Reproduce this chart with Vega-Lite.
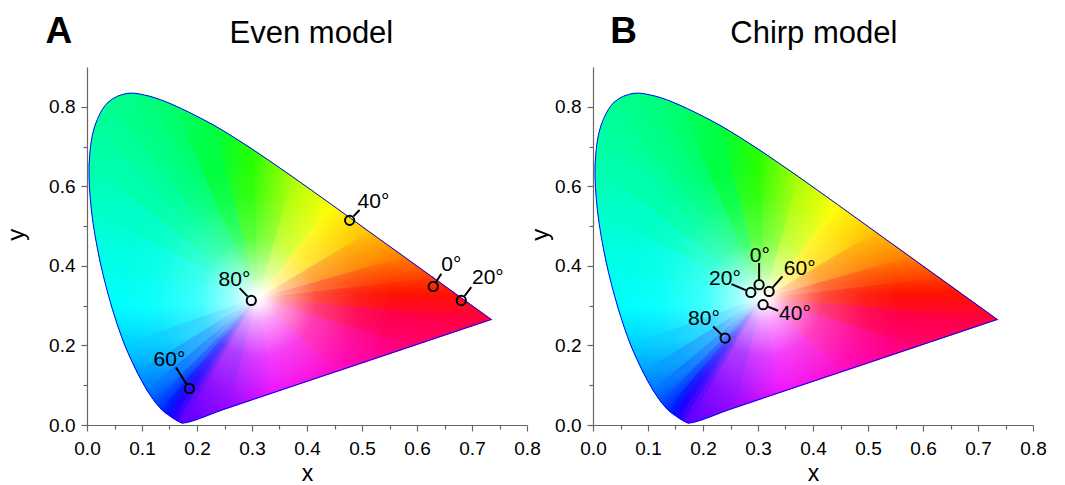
{
"$schema": "https://vega.github.io/schema/vega-lite/v6.json",
"background": "white",
"padding": {"left": 5, "top": 13, "right": 5, "bottom": 0},
"config": {"view": {"stroke": null}, "font": "Liberation Sans",
  "axis": {"domainColor": "#666", "tickColor": "#666", "domainWidth": 1.2, "tickWidth": 1.2, "labelColor": "black", "labelFont": "Liberation Sans", "labelFontSize": 19, "titleFont": "Liberation Sans", "titleFontSize": 24, "titleFontWeight": "normal", "titleColor": "black", "grid": false}},
"data": {"values": [
{"p":"A","i":0,"x":0.31,"y":0.32},{"p":"A","i":1,"x":0.7347,"y":0.2653},{"p":"A","i":2,"x":0.6658,"y":0.334},{"p":"A","i":3,"x":0.627,"y":0.3725},{"p":"A","i":4,"x":0.5752,"y":0.4242},{"p":"A","i":5,"x":0.5125,"y":0.4866},{"p":"A","i":6,"x":0.4441,"y":0.5547},{"p":"A","i":7,"x":0.3731,"y":0.6245},{"p":"A","i":8,"x":0.3016,"y":0.6923},{"p":"A","i":9,"x":0.2296,"y":0.7543},{"p":"A","i":10,"x":0.1547,"y":0.8059},{"p":"A","i":11,"x":0.1142,"y":0.8262},{"p":"A","i":12,"x":0.0743,"y":0.8338},{"p":"A","i":13,"x":0.0389,"y":0.812},{"p":"A","i":14,"x":0.0139,"y":0.7502},{"p":"A","i":15,"x":0.0039,"y":0.6548},{"p":"A","i":16,"x":0.0082,"y":0.5384},{"p":"A","i":17,"x":0.0235,"y":0.4127},{"p":"A","i":18,"x":0.0454,"y":0.295},{"p":"A","i":19,"x":0.0687,"y":0.2007},{"p":"A","i":20,"x":0.0913,"y":0.1327},{"p":"A","i":21,"x":0.1096,"y":0.0868},{"p":"A","i":22,"x":0.1241,"y":0.0578},{"p":"A","i":23,"x":0.1355,"y":0.0399},{"p":"A","i":24,"x":0.144,"y":0.0297},{"p":"A","i":25,"x":0.1566,"y":0.0177},{"p":"A","i":26,"x":0.1644,"y":0.0109},{"p":"A","i":27,"x":0.1741,"y":0.005},{"p":"A","i":28,"x":0.2582,"y":0.044},{"p":"A","i":29,"x":0.3423,"y":0.0831},{"p":"A","i":30,"x":0.4544,"y":0.1352},{"p":"A","i":31,"x":0.5946,"y":0.2002},{"p":"A","i":32,"x":0.7347,"y":0.2653},
{"p":"B","i":0,"x":0.31,"y":0.32},{"p":"B","i":1,"x":0.7347,"y":0.2653},{"p":"B","i":2,"x":0.6658,"y":0.334},{"p":"B","i":3,"x":0.627,"y":0.3725},{"p":"B","i":4,"x":0.5752,"y":0.4242},{"p":"B","i":5,"x":0.5125,"y":0.4866},{"p":"B","i":6,"x":0.4441,"y":0.5547},{"p":"B","i":7,"x":0.3731,"y":0.6245},{"p":"B","i":8,"x":0.3016,"y":0.6923},{"p":"B","i":9,"x":0.2296,"y":0.7543},{"p":"B","i":10,"x":0.1547,"y":0.8059},{"p":"B","i":11,"x":0.1142,"y":0.8262},{"p":"B","i":12,"x":0.0743,"y":0.8338},{"p":"B","i":13,"x":0.0389,"y":0.812},{"p":"B","i":14,"x":0.0139,"y":0.7502},{"p":"B","i":15,"x":0.0039,"y":0.6548},{"p":"B","i":16,"x":0.0082,"y":0.5384},{"p":"B","i":17,"x":0.0235,"y":0.4127},{"p":"B","i":18,"x":0.0454,"y":0.295},{"p":"B","i":19,"x":0.0687,"y":0.2007},{"p":"B","i":20,"x":0.0913,"y":0.1327},{"p":"B","i":21,"x":0.1096,"y":0.0868},{"p":"B","i":22,"x":0.1241,"y":0.0578},{"p":"B","i":23,"x":0.1355,"y":0.0399},{"p":"B","i":24,"x":0.144,"y":0.0297},{"p":"B","i":25,"x":0.1566,"y":0.0177},{"p":"B","i":26,"x":0.1644,"y":0.0109},{"p":"B","i":27,"x":0.1741,"y":0.005},{"p":"B","i":28,"x":0.2582,"y":0.044},{"p":"B","i":29,"x":0.3423,"y":0.0831},{"p":"B","i":30,"x":0.4544,"y":0.1352},{"p":"B","i":31,"x":0.5946,"y":0.2002},{"p":"B","i":32,"x":0.7347,"y":0.2653},
{"p":"A","k":"M","x":0.6296,"y":0.3484},{"p":"A","k":"R","x":0.6349,"y":0.3603,"x2":0.6442,"y2":0.3804},{"p":"A","k":"L","x":0.6442,"y":0.3862,"t":"0°"},
{"p":"A","k":"M","x":0.6805,"y":0.3132},{"p":"A","k":"R","x":0.6865,"y":0.3243,"x2":0.6987,"y2":0.3467},{"p":"A","k":"L","x":0.700,"y":0.3542,"t":"20°"},
{"p":"A","k":"M","x":0.4775,"y":0.5145},{"p":"A","k":"R","x":0.4845,"y":0.5245,"x2":0.4956,"y2":0.5404},{"p":"A","k":"L","x":0.492,"y":0.5447,"t":"40°"},
{"p":"A","k":"M","x":0.186,"y":0.0918},{"p":"A","k":"R","x":0.1807,"y":0.1034,"x2":0.1618,"y2":0.1447},{"p":"A","k":"L","x":0.1211,"y":0.1472,"t":"60°"},
{"p":"A","k":"M","x":0.2987,"y":0.3132},{"p":"A","k":"R","x":0.2918,"y":0.3233,"x2":0.2775,"y2":0.3442},{"p":"A","k":"L","x":0.2393,"y":0.3484,"t":"80°"},
{"p":"B","k":"M","x":0.302,"y":0.3527},{"p":"B","k":"R","x":0.302,"y":0.3665,"x2":0.302,"y2":0.407},{"p":"B","k":"L","x":0.2851,"y":0.4096,"t":"0°"},
{"p":"B","k":"M","x":0.2869,"y":0.3333},{"p":"B","k":"R","x":0.2777,"y":0.3389,"x2":0.2518,"y2":0.3542},{"p":"B","k":"L","x":0.2111,"y":0.3527,"t":"20°"},
{"p":"B","k":"M","x":0.3093,"y":0.3024},{"p":"B","k":"R","x":0.3185,"y":0.2974,"x2":0.3365,"y2":0.2873},{"p":"B","k":"L","x":0.3384,"y":0.2647,"t":"40°"},
{"p":"B","k":"M","x":0.3202,"y":0.3358},{"p":"B","k":"R","x":0.3269,"y":0.3462,"x2":0.3445,"y2":0.3736},{"p":"B","k":"L","x":0.3469,"y":0.3779,"t":"60°"},
{"p":"B","k":"M","x":0.2402,"y":0.2184},{"p":"B","k":"R","x":0.2331,"y":0.2279,"x2":0.2184,"y2":0.2478},{"p":"B","k":"L","x":0.1729,"y":0.2503,"t":"80°"},
{"p":"A","k":"T","x":-0.051,"y":0.96,"t":"A"},{"p":"B","k":"T","x":0.0555,"y":0.96,"t":"B"},
{"p":"A","k":"H","x":0.408,"y":0.96,"t":"Even model"},{"p":"B","k":"H","x":0.4015,"y":0.96,"t":"Chirp model"},
{"p":"A","k":"Y","x":-0.114,"y":0.478,"t":"y"},{"p":"B","k":"Y","x":-0.0813,"y":0.478,"t":"y"}
]},
"facet": {"column": {"field": "p", "type": "nominal", "title": null, "header": {"labels": false, "title": null}}},
"spacing": -12,
"resolve": {"axis": {"y": "independent", "x": "independent"}},
"spec": {
"width": 440, "height": 358,
"encoding": {
 "x": {"field": "x", "type": "quantitative", "scale": {"domain": [0, 0.8], "nice": false, "zero": false},
   "axis": {"title": "x", "titleFontSize": 23, "values": [0,0.05,0.1,0.15,0.2,0.25,0.3,0.35,0.4,0.45,0.5,0.55,0.6,0.65,0.7,0.75,0.8], "labelExpr": "round(datum.value*20)%2==0 ? format(datum.value,'.1f') : ''", "tickSize": {"condition": {"test": "round(datum.value*20)%2==0", "value": 6}, "value": 4}, "labelFlush": false, "labelOverlap": false, "labelPadding": 8, "titlePadding": 4}},
 "y": {"field": "y", "type": "quantitative", "scale": {"domain": [0, 0.9], "nice": false, "zero": false},
   "axis": {"title": null, "values": [0,0.1,0.2,0.3,0.4,0.5,0.6,0.7,0.8], "labelExpr": "round(datum.value*10)%2==0 ? format(datum.value,'.1f') : ''", "tickSize": {"condition": {"test": "round(datum.value*10)%2==0", "value": 6}, "value": 4}, "labelFlush": false, "labelOverlap": false, "labelPadding": 6}},
 "order": {"field": "i", "type": "quantitative"}
},
"layer": [
{"transform":[{"filter":"datum.i>=1"}],"mark":{"type":"line","interpolate":"catmull-rom","strokeWidth":0,"fill":{"gradient":"linear","x1":0,"y1":0,"x2":0,"y2":1,"stops":[{"offset":0,"color":"#00ff88"},{"offset":0.101,"color":"#00ff9c"},{"offset":0.222,"color":"#00ffac"},{"offset":0.355,"color":"#00ffc8"},{"offset":0.512,"color":"#00ffe6"},{"offset":0.65,"color":"#00ffff"},{"offset":0.764,"color":"#00d0ff"},{"offset":0.846,"color":"#00a0ff"},{"offset":0.9,"color":"#0078ff"},{"offset":0.936,"color":"#0050ff"},{"offset":0.97,"color":"#0018ff"},{"offset":0.985,"color":"#2000ff"},{"offset":1,"color":"#6000ff"}]}}},
{"transform":[{"filter":"datum.i==0||datum.i==1||datum.i==2"}],"mark":{"type":"line","strokeWidth":1.2,"fill":{"gradient":"linear","x1":1,"y1":1,"x2":0.838,"y2":0,"stops":[{"offset":0,"color":"#ff0040"},{"offset":1,"color":"#ff1400"}]},"stroke":{"gradient":"linear","x1":1,"y1":1,"x2":0.838,"y2":0,"stops":[{"offset":0,"color":"#ff0040"},{"offset":1,"color":"#ff1400"}]}}},
{"transform":[{"filter":"datum.i==0||datum.i==2||datum.i==3"}],"mark":{"type":"line","strokeWidth":1.2,"fill":{"gradient":"linear","x1":1,"y1":0.733,"x2":0.891,"y2":0,"stops":[{"offset":0,"color":"#ff1400"},{"offset":1,"color":"#ff4000"}]},"stroke":{"gradient":"linear","x1":1,"y1":0.733,"x2":0.891,"y2":0,"stops":[{"offset":0,"color":"#ff1400"},{"offset":1,"color":"#ff4000"}]}}},
{"transform":[{"filter":"datum.i==0||datum.i==3||datum.i==4"}],"mark":{"type":"line","strokeWidth":1.2,"fill":{"gradient":"linear","x1":1,"y1":0.496,"x2":0.837,"y2":0,"stops":[{"offset":0,"color":"#ff4000"},{"offset":1,"color":"#ff8000"}]},"stroke":{"gradient":"linear","x1":1,"y1":0.496,"x2":0.837,"y2":0,"stops":[{"offset":0,"color":"#ff4000"},{"offset":1,"color":"#ff8000"}]}}},
{"transform":[{"filter":"datum.i==0||datum.i==4||datum.i==5"}],"mark":{"type":"line","strokeWidth":1.2,"fill":{"gradient":"linear","x1":1,"y1":0.375,"x2":0.764,"y2":0,"stops":[{"offset":0,"color":"#ff8000"},{"offset":1,"color":"#ffc000"}]},"stroke":{"gradient":"linear","x1":1,"y1":0.375,"x2":0.764,"y2":0,"stops":[{"offset":0,"color":"#ff8000"},{"offset":1,"color":"#ffc000"}]}}},
{"transform":[{"filter":"datum.i==0||datum.i==5||datum.i==6"}],"mark":{"type":"line","strokeWidth":1.2,"fill":{"gradient":"linear","x1":1,"y1":0.29,"x2":0.662,"y2":0,"stops":[{"offset":0,"color":"#ffc000"},{"offset":1,"color":"#ffff00"}]},"stroke":{"gradient":"linear","x1":1,"y1":0.29,"x2":0.662,"y2":0,"stops":[{"offset":0,"color":"#ffc000"},{"offset":1,"color":"#ffff00"}]}}},
{"transform":[{"filter":"datum.i==0||datum.i==6||datum.i==7"}],"mark":{"type":"line","strokeWidth":1.2,"fill":{"gradient":"linear","x1":1,"y1":0.229,"x2":0.471,"y2":0,"stops":[{"offset":0,"color":"#ffff00"},{"offset":1,"color":"#a8ff00"}]},"stroke":{"gradient":"linear","x1":1,"y1":0.229,"x2":0.471,"y2":0,"stops":[{"offset":0,"color":"#ffff00"},{"offset":1,"color":"#a8ff00"}]}}},
{"transform":[{"filter":"datum.i==0||datum.i==7||datum.i==8"}],"mark":{"type":"line","strokeWidth":1.2,"fill":{"gradient":"linear","x1":1,"y1":0.182,"x2":0,"y2":0,"stops":[{"offset":0,"color":"#a8ff00"},{"offset":1,"color":"#28ff00"}]},"stroke":{"gradient":"linear","x1":1,"y1":0.182,"x2":0,"y2":0,"stops":[{"offset":0,"color":"#a8ff00"},{"offset":1,"color":"#28ff00"}]}}},
{"transform":[{"filter":"datum.i==0||datum.i==8||datum.i==9"}],"mark":{"type":"line","strokeWidth":1.2,"fill":{"gradient":"linear","x1":0.896,"y1":0.143,"x2":0,"y2":0,"stops":[{"offset":0,"color":"#28ff00"},{"offset":1,"color":"#00ff40"}]},"stroke":{"gradient":"linear","x1":0.896,"y1":0.143,"x2":0,"y2":0,"stops":[{"offset":0,"color":"#28ff00"},{"offset":1,"color":"#00ff40"}]}}},
{"transform":[{"filter":"datum.i==0||datum.i==9||datum.i==10"}],"mark":{"type":"line","strokeWidth":1.2,"fill":{"gradient":"linear","x1":0.482,"y1":0.106,"x2":0,"y2":0,"stops":[{"offset":0,"color":"#00ff40"},{"offset":1,"color":"#00ff6c"}]},"stroke":{"gradient":"linear","x1":0.482,"y1":0.106,"x2":0,"y2":0,"stops":[{"offset":0,"color":"#00ff40"},{"offset":1,"color":"#00ff6c"}]}}},
{"transform":[{"filter":"datum.i==0||datum.i==10||datum.i==11"}],"mark":{"type":"line","strokeWidth":1.2,"fill":{"gradient":"linear","x1":0.207,"y1":0.04,"x2":0,"y2":0,"stops":[{"offset":0,"color":"#00ff6c"},{"offset":1,"color":"#00ff7c"}]},"stroke":{"gradient":"linear","x1":0.207,"y1":0.04,"x2":0,"y2":0,"stops":[{"offset":0,"color":"#00ff6c"},{"offset":1,"color":"#00ff7c"}]}}},
{"transform":[{"filter":"datum.i==0||datum.i==11||datum.i==12"}],"mark":{"type":"line","strokeWidth":1.2,"fill":{"gradient":"linear","x1":0.169,"y1":0.015,"x2":0,"y2":0,"stops":[{"offset":0,"color":"#00ff7c"},{"offset":1,"color":"#00ff88"}]},"stroke":{"gradient":"linear","x1":0.169,"y1":0.015,"x2":0,"y2":0,"stops":[{"offset":0,"color":"#00ff7c"},{"offset":1,"color":"#00ff88"}]}}},
{"transform":[{"filter":"datum.i==0||datum.i==12||datum.i==13"}],"mark":{"type":"line","strokeWidth":1.2,"fill":{"gradient":"linear","x1":0.131,"y1":0,"x2":0,"y2":0.042,"stops":[{"offset":0,"color":"#00ff88"},{"offset":1,"color":"#00ff90"}]},"stroke":{"gradient":"linear","x1":0.131,"y1":0,"x2":0,"y2":0.042,"stops":[{"offset":0,"color":"#00ff88"},{"offset":1,"color":"#00ff90"}]}}},
{"transform":[{"filter":"datum.i==0||datum.i==13||datum.i==14"}],"mark":{"type":"line","strokeWidth":1.2,"fill":{"gradient":"linear","x1":0.084,"y1":0,"x2":0,"y2":0.126,"stops":[{"offset":0,"color":"#00ff90"},{"offset":1,"color":"#00ff9c"}]},"stroke":{"gradient":"linear","x1":0.084,"y1":0,"x2":0,"y2":0.126,"stops":[{"offset":0,"color":"#00ff90"},{"offset":1,"color":"#00ff9c"}]}}},
{"transform":[{"filter":"datum.i==0||datum.i==14||datum.i==15"}],"mark":{"type":"line","strokeWidth":1.2,"fill":{"gradient":"linear","x1":0.033,"y1":0,"x2":0,"y2":0.222,"stops":[{"offset":0,"color":"#00ff9c"},{"offset":1,"color":"#00ffac"}]},"stroke":{"gradient":"linear","x1":0.033,"y1":0,"x2":0,"y2":0.222,"stops":[{"offset":0,"color":"#00ff9c"},{"offset":1,"color":"#00ffac"}]}}},
{"transform":[{"filter":"datum.i==0||datum.i==15||datum.i==16"}],"mark":{"type":"line","strokeWidth":1.2,"fill":{"gradient":"linear","x1":0,"y1":0,"x2":0.014,"y2":0.348,"stops":[{"offset":0,"color":"#00ffac"},{"offset":1,"color":"#00ffc8"}]},"stroke":{"gradient":"linear","x1":0,"y1":0,"x2":0.014,"y2":0.348,"stops":[{"offset":0,"color":"#00ffac"},{"offset":1,"color":"#00ffc8"}]}}},
{"transform":[{"filter":"datum.i==0||datum.i==16||datum.i==17"}],"mark":{"type":"line","strokeWidth":1.2,"fill":{"gradient":"linear","x1":0,"y1":0,"x2":0.051,"y2":0.576,"stops":[{"offset":0,"color":"#00ffc8"},{"offset":1,"color":"#00ffe6"}]},"stroke":{"gradient":"linear","x1":0,"y1":0,"x2":0.051,"y2":0.576,"stops":[{"offset":0,"color":"#00ffc8"},{"offset":1,"color":"#00ffe6"}]}}},
{"transform":[{"filter":"datum.i==0||datum.i==17||datum.i==18"}],"mark":{"type":"line","strokeWidth":1.2,"fill":{"gradient":"linear","x1":0,"y1":0,"x2":0.076,"y2":1,"stops":[{"offset":0,"color":"#00ffe6"},{"offset":1,"color":"#00ffff"}]},"stroke":{"gradient":"linear","x1":0,"y1":0,"x2":0.076,"y2":1,"stops":[{"offset":0,"color":"#00ffe6"},{"offset":1,"color":"#00ffff"}]}}},
{"transform":[{"filter":"datum.i==0||datum.i==18||datum.i==19"}],"mark":{"type":"line","strokeWidth":1.2,"fill":{"gradient":"linear","x1":0,"y1":0.21,"x2":0.088,"y2":1,"stops":[{"offset":0,"color":"#00ffff"},{"offset":1,"color":"#00d0ff"}]},"stroke":{"gradient":"linear","x1":0,"y1":0.21,"x2":0.088,"y2":1,"stops":[{"offset":0,"color":"#00ffff"},{"offset":1,"color":"#00d0ff"}]}}},
{"transform":[{"filter":"datum.i==0||datum.i==19||datum.i==20"}],"mark":{"type":"line","strokeWidth":1.2,"fill":{"gradient":"linear","x1":0,"y1":0.637,"x2":0.094,"y2":1,"stops":[{"offset":0,"color":"#00d0ff"},{"offset":1,"color":"#00a0ff"}]},"stroke":{"gradient":"linear","x1":0,"y1":0.637,"x2":0.094,"y2":1,"stops":[{"offset":0,"color":"#00d0ff"},{"offset":1,"color":"#00a0ff"}]}}},
{"transform":[{"filter":"datum.i==0||datum.i==20||datum.i==21"}],"mark":{"type":"line","strokeWidth":1.2,"fill":{"gradient":"linear","x1":0,"y1":0.803,"x2":0.084,"y2":1,"stops":[{"offset":0,"color":"#00a0ff"},{"offset":1,"color":"#0078ff"}]},"stroke":{"gradient":"linear","x1":0,"y1":0.803,"x2":0.084,"y2":1,"stops":[{"offset":0,"color":"#00a0ff"},{"offset":1,"color":"#0078ff"}]}}},
{"transform":[{"filter":"datum.i==0||datum.i==21||datum.i==22"}],"mark":{"type":"line","strokeWidth":1.2,"fill":{"gradient":"linear","x1":0,"y1":0.889,"x2":0.072,"y2":1,"stops":[{"offset":0,"color":"#0078ff"},{"offset":1,"color":"#0050ff"}]},"stroke":{"gradient":"linear","x1":0,"y1":0.889,"x2":0.072,"y2":1,"stops":[{"offset":0,"color":"#0078ff"},{"offset":1,"color":"#0050ff"}]}}},
{"transform":[{"filter":"datum.i==0||datum.i==22||datum.i==23"}],"mark":{"type":"line","strokeWidth":1.2,"fill":{"gradient":"linear","x1":0,"y1":0.936,"x2":0.061,"y2":1,"stops":[{"offset":0,"color":"#0050ff"},{"offset":1,"color":"#0030ff"}]},"stroke":{"gradient":"linear","x1":0,"y1":0.936,"x2":0.061,"y2":1,"stops":[{"offset":0,"color":"#0050ff"},{"offset":1,"color":"#0030ff"}]}}},
{"transform":[{"filter":"datum.i==0||datum.i==23||datum.i==24"}],"mark":{"type":"line","strokeWidth":1.2,"fill":{"gradient":"linear","x1":0,"y1":0.965,"x2":0.049,"y2":1,"stops":[{"offset":0,"color":"#0030ff"},{"offset":1,"color":"#0018ff"}]},"stroke":{"gradient":"linear","x1":0,"y1":0.965,"x2":0.049,"y2":1,"stops":[{"offset":0,"color":"#0030ff"},{"offset":1,"color":"#0018ff"}]}}},
{"transform":[{"filter":"datum.i==0||datum.i==24||datum.i==25"}],"mark":{"type":"line","strokeWidth":1.2,"fill":{"gradient":"linear","x1":0,"y1":0.96,"x2":0.076,"y2":1,"stops":[{"offset":0,"color":"#0018ff"},{"offset":1,"color":"#2000ff"}]},"stroke":{"gradient":"linear","x1":0,"y1":0.96,"x2":0.076,"y2":1,"stops":[{"offset":0,"color":"#0018ff"},{"offset":1,"color":"#2000ff"}]}}},
{"transform":[{"filter":"datum.i==0||datum.i==25||datum.i==26"}],"mark":{"type":"line","strokeWidth":1.2,"fill":{"gradient":"linear","x1":0,"y1":0.978,"x2":0.051,"y2":1,"stops":[{"offset":0,"color":"#2000ff"},{"offset":1,"color":"#3c00ff"}]},"stroke":{"gradient":"linear","x1":0,"y1":0.978,"x2":0.051,"y2":1,"stops":[{"offset":0,"color":"#2000ff"},{"offset":1,"color":"#3c00ff"}]}}},
{"transform":[{"filter":"datum.i==0||datum.i==26||datum.i==27"}],"mark":{"type":"line","strokeWidth":1.2,"fill":{"gradient":"linear","x1":0,"y1":0.981,"x2":0.067,"y2":1,"stops":[{"offset":0,"color":"#3c00ff"},{"offset":1,"color":"#6000ff"}]},"stroke":{"gradient":"linear","x1":0,"y1":0.981,"x2":0.067,"y2":1,"stops":[{"offset":0,"color":"#3c00ff"},{"offset":1,"color":"#6000ff"}]}}},
{"transform":[{"filter":"datum.i==0||datum.i==27||datum.i==28"}],"mark":{"type":"line","strokeWidth":1.2,"fill":{"gradient":"linear","x1":0,"y1":1,"x2":0.619,"y2":0.876,"stops":[{"offset":0,"color":"#6000ff"},{"offset":1,"color":"#9400ff"}]},"stroke":{"gradient":"linear","x1":0,"y1":1,"x2":0.619,"y2":0.876,"stops":[{"offset":0,"color":"#6000ff"},{"offset":1,"color":"#9400ff"}]}}},
{"transform":[{"filter":"datum.i==0||datum.i==28||datum.i==29"}],"mark":{"type":"line","strokeWidth":1.2,"fill":{"gradient":"linear","x1":0,"y1":1,"x2":1,"y2":0.858,"stops":[{"offset":0,"color":"#9400ff"},{"offset":1,"color":"#ee00ff"}]},"stroke":{"gradient":"linear","x1":0,"y1":1,"x2":1,"y2":0.858,"stops":[{"offset":0,"color":"#9400ff"},{"offset":1,"color":"#ee00ff"}]}}},
{"transform":[{"filter":"datum.i==0||datum.i==29||datum.i==30"}],"mark":{"type":"line","strokeWidth":1.2,"fill":{"gradient":"linear","x1":0.224,"y1":1,"x2":1,"y2":0.78,"stops":[{"offset":0,"color":"#ee00ff"},{"offset":1,"color":"#ff00c0"}]},"stroke":{"gradient":"linear","x1":0.224,"y1":1,"x2":1,"y2":0.78,"stops":[{"offset":0,"color":"#ee00ff"},{"offset":1,"color":"#ff00c0"}]}}},
{"transform":[{"filter":"datum.i==0||datum.i==30||datum.i==31"}],"mark":{"type":"line","strokeWidth":1.2,"fill":{"gradient":"linear","x1":0.507,"y1":1,"x2":1,"y2":0.648,"stops":[{"offset":0,"color":"#ff00c0"},{"offset":1,"color":"#ff0070"}]},"stroke":{"gradient":"linear","x1":0.507,"y1":1,"x2":1,"y2":0.648,"stops":[{"offset":0,"color":"#ff00c0"},{"offset":1,"color":"#ff0070"}]}}},
{"transform":[{"filter":"datum.i==0||datum.i==31||datum.i==32"}],"mark":{"type":"line","strokeWidth":1.2,"fill":{"gradient":"linear","x1":0.67,"y1":1,"x2":1,"y2":0.457,"stops":[{"offset":0,"color":"#ff0070"},{"offset":1,"color":"#ff0040"}]},"stroke":{"gradient":"linear","x1":0.67,"y1":1,"x2":1,"y2":0.457,"stops":[{"offset":0,"color":"#ff0070"},{"offset":1,"color":"#ff0040"}]}}},
{"transform":[{"filter":"datum.i>=1"}],"mark":{"type":"line","interpolate":"catmull-rom","strokeWidth":0,"fill":{"gradient":"radial","x1":0.419,"y1":0.598,"r1":0,"x2":0.419,"y2":0.598,"r2":0.42,"stops":[{"offset":0,"color":"rgba(255,255,255,1)"},{"offset":0.04,"color":"rgba(255,255,255,0.95)"},{"offset":0.15,"color":"rgba(255,255,255,0.62)"},{"offset":0.35,"color":"rgba(255,255,255,0.24)"},{"offset":0.6,"color":"rgba(255,255,255,0.06)"},{"offset":0.8,"color":"rgba(255,255,255,0)"},{"offset":1,"color":"rgba(255,255,255,0)"}]}}},
{"transform":[{"filter":"datum.i>=1"}],"mark":{"type":"line","interpolate":"catmull-rom","stroke":"#0000ff","strokeWidth":1}},
{"transform":[{"filter":"datum.k=='R'"}],"mark":{"type":"rule","stroke":"black","strokeWidth":2},"encoding":{"x2":{"field":"x2"},"y2":{"field":"y2"}}},
{"transform":[{"filter":"datum.k=='M'"}],"mark":{"type":"point","shape":"circle","filled":false,"stroke":"black","strokeWidth":2,"size":85,"opacity":1}},
{"transform":[{"filter":"datum.k=='L'"}],"mark":{"type":"text","align":"left","baseline":"alphabetic","fontSize":21,"font":"Liberation Sans","color":"black"},"encoding":{"text":{"field":"t"}}},
{"transform":[{"filter":"datum.k=='H'"}],"mark":{"type":"text","align":"center","baseline":"alphabetic","fontSize":31,"font":"Liberation Sans","color":"black"},"encoding":{"text":{"field":"t"}}},
{"transform":[{"filter":"datum.k=='Y'"}],"mark":{"type":"text","align":"center","baseline":"alphabetic","angle":270,"fontSize":24,"font":"Liberation Sans","color":"black"},"encoding":{"text":{"field":"t"}}},
{"transform":[{"filter":"datum.k=='T'"}],"mark":{"type":"text","align":"center","baseline":"alphabetic","fontSize":37,"fontWeight":"bold","font":"Liberation Sans","color":"black"},"encoding":{"text":{"field":"t"}}}
]
}
}
